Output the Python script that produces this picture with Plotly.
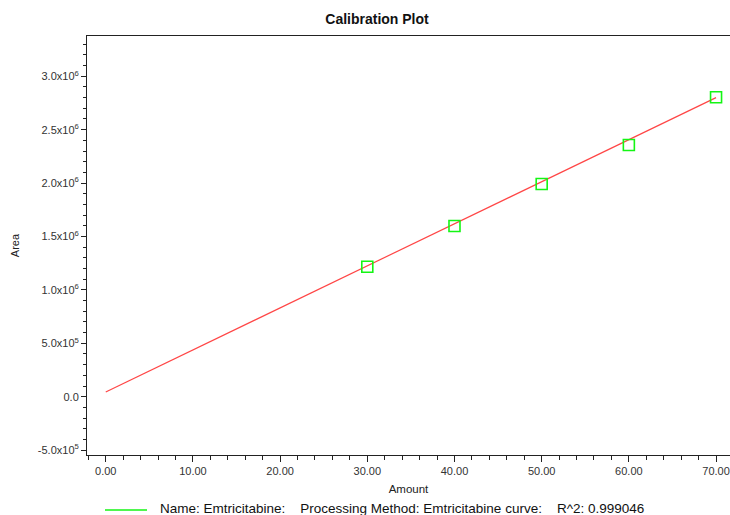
import plotly.graph_objects as go

# ---- data ----
amounts = [30, 40, 50, 60, 70]
areas = [1.217e6, 1.598e6, 1.991e6, 2.357e6, 2.803e6]

fit_amount = [0, 70]
fit_area = [4.4e4, 2.80e6]

x_tickvals = [0, 10, 20, 30, 40, 50, 60, 70]
x_ticktext = ["0.00", "10.00", "20.00", "30.00", "40.00", "50.00", "60.00", "70.00"]

y_tickvals = [-5e5, 0, 5e5, 1.0e6, 1.5e6, 2.0e6, 2.5e6, 3.0e6]
y_ticktext = ["-5.0x10<sup>5</sup>", "0.0", "5.0x10<sup>5</sup>", "1.0x10<sup>6</sup>",
              "1.5x10<sup>6</sup>", "2.0x10<sup>6</sup>", "2.5x10<sup>6</sup>", "3.0x10<sup>6</sup>"]

legend_text = ("Name: Emtricitabine:\u00a0\u00a0\u00a0\u00a0Processing Method: Emtricitabine curve:"
               "\u00a0\u00a0\u00a0\u00a0R^2: 0.999046")

W, H = 730, 515
L, R, T, B = 87, 0, 36, 60
plot_w = W - L - R
plot_h = H - T - B

FONT = "Liberation Sans, Arial, sans-serif"
AXIS_COLOR = "#222222"

fig = go.Figure()
fig.add_trace(go.Scatter(
    x=fit_amount, y=fit_area, mode="lines",
    line=dict(color="rgb(255,70,70)", width=1.2),
    showlegend=False, hoverinfo="skip", cliponaxis=False))
fig.add_trace(go.Scatter(
    x=amounts, y=areas, mode="markers",
    marker=dict(symbol="square-open", size=11, color="rgb(20,245,20)",
                line=dict(width=1.6, color="rgb(20,245,20)")),
    showlegend=False, cliponaxis=False))


def px_x(p):
    return (p - L) / plot_w


def px_y(p):
    return (H - B - p) / plot_h


fig.add_shape(type="line", xref="paper", yref="paper",
              x0=px_x(105), x1=px_x(147), y0=px_y(510), y1=px_y(510),
              line=dict(color="rgb(20,245,20)", width=1.5))
fig.add_annotation(xref="paper", yref="paper", x=px_x(158), y=px_y(508),
                   xanchor="left", yanchor="middle", showarrow=False,
                   text=legend_text, font=dict(family=FONT, size=13.5, color="#111111"))

fig.update_layout(
    width=W, height=H,
    margin=dict(l=L, r=R, t=T, b=B, autoexpand=False),
    paper_bgcolor="white", plot_bgcolor="white",
    font=dict(family=FONT, color="#222222"),
    title=dict(text="<b>Calibration Plot</b>", x=377 / W, xref="container", xanchor="center",
               y=1 - 19 / H, yref="container", yanchor="middle",
               font=dict(family=FONT, size=14, color="#111111")),
    xaxis=dict(
        range=[-2.15, 71.6], tickmode="array", tickvals=x_tickvals, ticktext=x_ticktext,
        automargin=False,
        showgrid=False, zeroline=False, showline=True, linecolor=AXIS_COLOR, linewidth=1,
        mirror=True, ticks="outside", ticklen=6, tickcolor=AXIS_COLOR, tickwidth=1,
        tickfont=dict(family=FONT, size=11, color="#333333"),
        minor=dict(ticks="outside", ticklen=4, dtick=2, tick0=0, tickcolor=AXIS_COLOR, showgrid=False),
        title=dict(text="Amount", font=dict(family=FONT, size=11.5, color="#222222"), standoff=8),
    ),
    yaxis=dict(
        range=[-5.46e5, 3.377e6], tickmode="array", tickvals=y_tickvals, ticktext=y_ticktext,
        automargin=False,
        showgrid=False, zeroline=False, showline=True, linecolor=AXIS_COLOR, linewidth=1,
        ticks="outside", ticklen=5, tickcolor=AXIS_COLOR, tickwidth=1,
        tickfont=dict(family=FONT, size=11, color="#333333"),
        minor=dict(ticks="outside", ticklen=3, dtick=1e5, tick0=0, tickcolor=AXIS_COLOR, showgrid=False),
        title=dict(text="Area", font=dict(family=FONT, size=11, color="#222222"), standoff=15),
    ),
)

fig.write_html(
    "out.html",
    config={"displayModeBar": False},
    post_script="document.body.style.margin='0';document.body.style.overflow='hidden';",
)
